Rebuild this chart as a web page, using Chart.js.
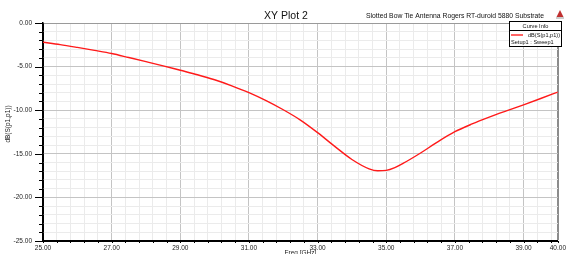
<!DOCTYPE html>
<html>
<head>
<meta charset="utf-8">
<script src="https://cdn.jsdelivr.net/npm/chart.js@4.4.0/dist/chart.umd.min.js"></script>
<style>
  html, body { margin: 0; padding: 0; background: #fff; }
  #wrap { width: 569px; height: 254px; position: relative; }
</style>
</head>
<body>
<div id="wrap"><canvas id="xy"></canvas></div>
<script>
// S11 sweep (GHz / dB)
var freqs = [25.0, 25.5, 26.0, 26.5, 27.0, 27.5, 28.0, 28.5, 29.0, 29.5, 30.0, 30.5,
             31.0, 31.5, 32.0, 32.5, 33.0, 33.5, 34.0, 34.5, 34.75, 35.0, 35.25, 35.5,
             36.0, 36.5, 37.0, 37.5, 38.0, 38.5, 39.0, 39.5, 40.0];
var s11 = [-2.21, -2.48, -2.80, -3.14, -3.50, -3.96, -4.43, -4.91, -5.42, -5.93, -6.51, -7.20,
           -7.98, -8.90, -9.95, -11.13, -12.57, -14.15, -15.65, -16.72, -16.95, -16.90, -16.58, -16.08,
           -14.91, -13.63, -12.47, -11.58, -10.80, -10.08, -9.38, -8.66, -7.92];

var xLabels = [25, 27, 29, 31, 33, 35, 37, 39, 40];
var yLabels = [0, -5, -10, -15, -20, -25];

var FONT = '"Liberation Sans", Arial, sans-serif';

var points = freqs.map(function (f, i) { return { x: f, y: s11[i] }; });

function isXLabel(v) { return xLabels.some(function (l) { return Math.abs(l - v) < 1e-6; }); }
function isYLabel(v) { return yLabels.indexOf(Math.round(v)) >= 0 && Math.abs(v - Math.round(v)) < 1e-6; }

// tick marks, axis title, plot title and the "Curve Info" box
var decor = {
    id: 'decor',
    afterDraw: function (chart) {
        var c = chart.ctx, a = chart.chartArea;
        var xs = chart.scales.x, ys = chart.scales.y;
        c.save();
        c.strokeStyle = '#000';
        c.lineWidth = 1;
        ys.ticks.forEach(function (t) {
            var py = Math.round(ys.getPixelForValue(t.value)) + 0.5;
            var len = (Math.round(t.value) % 5 === 0) ? 8 : 4;
            c.beginPath(); c.moveTo(a.left - len, py); c.lineTo(a.left, py); c.stroke();
        });
        xs.ticks.forEach(function (t) {
            var px = Math.round(xs.getPixelForValue(t.value)) + 0.5;
            c.beginPath(); c.moveTo(px, a.bottom); c.lineTo(px, a.bottom + 2); c.stroke();
        });

        // y axis title
        c.fillStyle = '#222';
        c.font = '6.5px ' + FONT;
        c.textAlign = 'center';
        c.textBaseline = 'middle';
        c.save();
        c.translate(8, 124);
        c.rotate(-Math.PI / 2);
        c.fillText('dB(S(p1,p1))', 0, 0);
        c.restore();

        // titles
        c.fillStyle = '#111';
        c.font = '10.5px ' + FONT;
        c.fillText('XY Plot 2', 286, 16);
        c.font = '6.8px ' + FONT;
        c.textAlign = 'right';
        c.fillText('Slotted Bow Tie Antenna Rogers RT-duroid 5880 Substrate', 544, 16);

        // small logo mark
        c.fillStyle = '#c03030';
        c.beginPath(); c.moveTo(560, 10); c.lineTo(563.5, 17); c.lineTo(556.5, 17); c.closePath(); c.fill();
        c.fillStyle = '#999';
        c.fillRect(556, 17.5, 8, 1);

        // curve info box
        var bx = 509.5, by = 21.5, bw = 52, bh = 25;
        c.fillStyle = '#fff';
        c.fillRect(bx, by, bw, bh);
        c.strokeStyle = '#000';
        c.strokeRect(bx, by, bw, bh);
        c.beginPath(); c.moveTo(bx, 30.5); c.lineTo(bx + bw, 30.5); c.stroke();
        c.fillStyle = '#111';
        c.font = '5.6px ' + FONT;
        c.textAlign = 'center';
        c.fillText('Curve Info', 535.5, 26.5);
        c.textAlign = 'right';
        c.fillText('dB(S(p1,p1))', 560, 35.5);
        c.textAlign = 'left';
        c.fillText('Setup1 : Sweep1', 511, 42.5);
        c.strokeStyle = '#ff3030';
        c.lineWidth = 1.5;
        c.beginPath(); c.moveTo(511, 35); c.lineTo(523, 35); c.stroke();
        c.restore();
    }
};

new Chart(document.getElementById('xy'), {
    type: 'line',
    data: {
        datasets: [{
            label: 'dB(S(p1,p1))',
            data: points,
            borderColor: '#ff1a1a',
            borderWidth: 1.4,
            pointRadius: 0,
            cubicInterpolationMode: 'monotone',
            fill: false
        }]
    },
    options: {
        responsive: true,
        maintainAspectRatio: false,
        animation: false,
        layout: { padding: { top: 23, right: 8, left: 0, bottom: 0 } },
        plugins: {
            legend: { display: false },
            tooltip: { enabled: false }
        },
        scales: {
            x: {
                type: 'linear',
                min: 25,
                max: 40,
                afterBuildTicks: function (s) {
                    var t = [];
                    for (var i = 0; i < 38; i++) t.push({ value: Math.round((25 + 0.4 * i) * 10) / 10 });
                    t.push({ value: 40 });
                    s.ticks = t;
                },
                afterFit: function (s) { s.height = 13; },
                ticks: {
                    autoSkip: false,
                    maxRotation: 0,
                    padding: 3,
                    color: '#222',
                    font: { family: FONT, size: 6.5 },
                    callback: function (v) { return isXLabel(v) ? Number(v).toFixed(2) : ''; }
                },
                grid: {
                    drawTicks: false,
                    color: function (ctx) {
                        var v = ctx.tick ? ctx.tick.value : 0;
                        if (Math.abs(v - 40) < 1e-6) return '#8c8c8c';
                        if (Math.abs(v - 25) < 1e-6) return '#000';
                        return isXLabel(v) ? '#c4c4c4' : '#ebebeb';
                    },
                    lineWidth: function (ctx) {
                        var v = ctx.tick ? ctx.tick.value : 0;
                        return Math.abs(v - 40) < 1e-6 ? 2 : 1;
                    }
                },
                border: { color: '#000', width: 2 },
                title: {
                    display: true,
                    text: 'Freq [GHz]',
                    color: '#222',
                    font: { family: FONT, size: 6.5 },
                    padding: { top: 0, bottom: -3 }
                }
            },
            y: {
                min: -25,
                max: 0,
                afterFit: function (s) { s.width = 43; },
                ticks: {
                    stepSize: 1,
                    autoSkip: false,
                    padding: 1,
                    color: '#222',
                    font: { family: FONT, size: 6.5 },
                    callback: function (v) { return isYLabel(v) ? Number(v).toFixed(2) : ''; }
                },
                grid: {
                    drawTicks: true,
                    tickLength: 10,
                    tickColor: 'rgba(0,0,0,0)',
                    color: function (ctx) {
                        var v = ctx.tick ? ctx.tick.value : 0;
                        if (Math.abs(v) < 1e-6) return '#9a9a9a';
                        return isYLabel(v) ? '#c4c4c4' : '#ebebeb';
                    }
                },
                border: { color: '#000', width: 1.5 }
            }
        }
    },
    plugins: [decor]
});
</script>
</body>
</html>
